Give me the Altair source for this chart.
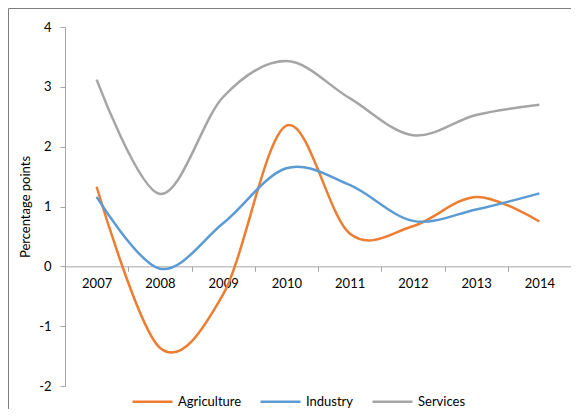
import altair as alt
import pandas as pd

years = ["2007", "2008", "2009", "2010", "2011", "2012", "2013", "2014"]
agriculture = [1.33, -1.36, -0.47, 2.35, 0.55, 0.67, 1.16, 0.75]
industry = [1.16, -0.04, 0.72, 1.64, 1.36, 0.76, 0.95, 1.22]
services = [3.12, 1.21, 2.83, 3.43, 2.81, 2.19, 2.53, 2.70]

series_names = ["Agriculture", "Industry", "Services"]
series_colors = ["#ED7D31", "#5B9BD5", "#A5A5A5"]

rows = []
for name, vals in zip(series_names, [agriculture, industry, services]):
    for y, v in zip(years, vals):
        rows.append({"Year": y, "Series": name, "Value": v})
df = pd.DataFrame(rows)

FONT = "Lato"
W, H = 506, 359
zero_offset = -(H * 2 / 6)  # x axis sits at y = 0

lines = alt.Chart(df).mark_line(interpolate="cardinal", strokeWidth=2.5, clip=False).encode(
    x=alt.X("Year:N", sort=years,
            scale=alt.Scale(type="band", paddingInner=0, paddingOuter=0),
            axis=alt.Axis(title=None, orient="bottom", offset=zero_offset,
                          tickBand="extent", labelAngle=0, labelPadding=6,
                          tickSize=5, domainColor="#a6a6a6", tickColor="#a6a6a6",
                          labelFont=FONT, labelFontSize=13, labelColor="#000000")),
    y=alt.Y("Value:Q", scale=alt.Scale(domain=[-2, 4], nice=False),
            axis=alt.Axis(title="Percentage points", values=[-2, -1, 0, 1, 2, 3, 4],
                          labelExpr="'' + datum.value",
                          grid=False, tickSize=5, domainColor="#a6a6a6", tickColor="#a6a6a6",
                          labelFont=FONT, labelFontSize=13, labelColor="#000000",
                          labelPadding=9, titleFont=FONT, titleFontSize=13,
                          titleFontWeight="normal", titleColor="#000000", titlePadding=6)),
    color=alt.Color("Series:N", sort=series_names,
                    scale=alt.Scale(domain=series_names, range=series_colors),
                    legend=alt.Legend(title=None, orient="none", direction="horizontal",
                                      legendX=66, legendY=353, symbolType="stroke",
                                      symbolSize=1600, symbolStrokeWidth=2.5,
                                      labelFont=FONT, labelFontSize=13, labelColor="#000000",
                                      labelOffset=4, columnPadding=13)),
)

frame = alt.Chart(pd.DataFrame({"a": [0]})).mark_rect(
    fill=None, stroke="#7f7f7f", strokeWidth=1, clip=False
).encode(
    x=alt.value(-56.5), y=alt.value(-18.5), x2=alt.value(700), y2=alt.value(600)
)

chart = alt.layer(frame, lines).properties(
    width=W, height=H,
    padding={"left": 57, "top": 19, "right": 0, "bottom": 23},
    autosize=alt.AutoSizeParams(type="none"),
    background="white",
).configure_view(stroke=None)

chart.save("out.html", embed_options={"renderer": "svg", "actions": False})
